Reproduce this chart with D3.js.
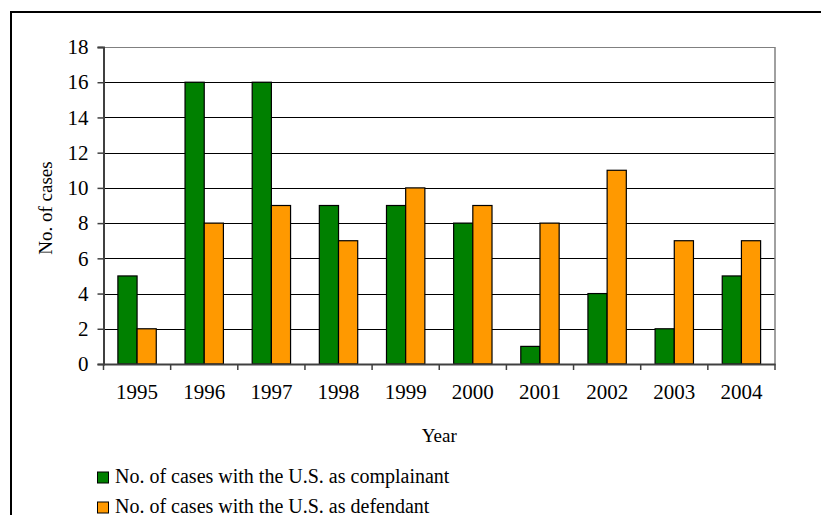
<!DOCTYPE html>
<html>
<head>
<meta charset="utf-8">
<script src="https://d3js.org/d3.v7.min.js"></script>
<style>
  body { margin: 0; background: #fff; }
  text { font-family: "Liberation Serif", "Times New Roman", serif; fill: #000; }
</style>
</head>
<body>
<svg id="chart" width="821" height="515"></svg>
<script>
// data
var years = ["1995","1996","1997","1998","1999","2000","2001","2002","2003","2004"];
var complainant = [5, 16, 16, 9, 9, 8, 1, 4, 2, 5];
var defendant = [2, 8, 9, 7, 10, 9, 8, 11, 7, 7];
var yTicks = [0, 2, 4, 6, 8, 10, 12, 14, 16, 18];
var seriesNames = ["No. of cases with the U.S. as complainant", "No. of cases with the U.S. as defendant"];
var colors = ["#008000", "#FF9900"];

var svg = d3.select("#chart");
var plotL = 103.5, plotR = 775, plotT = 47, plotB = 364;

// outer frame (left + top edges visible)
svg.append("rect").attr("x", 11).attr("y", 12).attr("width", 1000).attr("height", 1000)
  .attr("fill", "none").attr("stroke", "#000").attr("stroke-width", 2);

var x = d3.scaleBand().domain(years).range([plotL, plotR]).paddingInner(0).paddingOuter(0);
var y = d3.scaleLinear().domain([0, 18]).range([plotB, plotT]);
var bw = x.bandwidth() / 3.5;

// gridlines
svg.append("g").selectAll("line").data(yTicks.filter(function(d){ return d > 0; }))
  .join("line")
  .attr("x1", plotL).attr("x2", plotR)
  .attr("y1", function(d){ return Math.round(y(d)) + 0.5; })
  .attr("y2", function(d){ return Math.round(y(d)) + 0.5; })
  .attr("stroke", function(d){ return d == 18 ? "#808080" : "#000"; }).attr("stroke-width", 1.2);

// right border of plot area
svg.append("line").attr("x1", plotR).attr("x2", plotR).attr("y1", plotT).attr("y2", plotB)
  .attr("stroke", "#808080").attr("stroke-width", 1.5);

// bars
var bars = svg.append("g");
years.forEach(function(yr, i){
  var x0 = x(yr) + bw * 0.75;
  bars.append("rect").attr("x", x0).attr("y", y(complainant[i]))
    .attr("width", bw).attr("height", y(0) - y(complainant[i]))
    .attr("fill", colors[0]).attr("stroke", "#000").attr("stroke-width", 1.2);
  bars.append("rect").attr("x", x0 + bw).attr("y", y(defendant[i]))
    .attr("width", bw).attr("height", y(0) - y(defendant[i]))
    .attr("fill", colors[1]).attr("stroke", "#000").attr("stroke-width", 1.2);
});

// y axis
var yAxis = svg.append("g").attr("transform", "translate(" + plotL + ",0)")
  .call(d3.axisLeft(y).tickValues(yTicks).tickSize(6).tickPadding(9).tickFormat(d3.format("d")));
yAxis.select(".domain").attr("stroke", "#404040").attr("stroke-width", 2);
yAxis.selectAll(".tick line").attr("stroke", "#404040").attr("stroke-width", 1.5);
yAxis.selectAll(".tick text").attr("font-size", 21).attr("font-family", "Liberation Serif");

// x axis, ticks between categories
var xAxis = svg.append("g").attr("transform", "translate(0," + plotB + ")")
  .call(d3.axisBottom(x).tickSize(0).tickPadding(20));
xAxis.select(".domain").attr("stroke", "#404040").attr("stroke-width", 2);
xAxis.selectAll(".tick text").attr("font-size", 21).attr("font-family", "Liberation Serif")
  .attr("dy", "0.71em");
svg.append("g").selectAll("line").data(years.concat(["end"]))
  .join("line")
  .attr("x1", function(d, i){ return plotL + i * x.step(); })
  .attr("x2", function(d, i){ return plotL + i * x.step(); })
  .attr("y1", plotB).attr("y2", plotB + 6)
  .attr("stroke", "#404040").attr("stroke-width", 1.5);

// axis titles
svg.append("text").attr("x", (plotL + plotR) / 2).attr("y", 442)
  .attr("text-anchor", "middle").attr("font-size", 19).text("Year");
svg.append("text").attr("transform", "translate(52,208) rotate(-90)")
  .attr("text-anchor", "middle").attr("font-size", 19).text("No. of cases");

// legend
var lg = svg.append("g");
seriesNames.forEach(function(name, i){
  lg.append("rect").attr("x", 97.5).attr("y", 472 + i * 30).attr("width", 11).attr("height", 11)
    .attr("fill", colors[i]).attr("stroke", "#000").attr("stroke-width", 1);
  lg.append("text").attr("x", 115).attr("y", 483 + i * 30).attr("font-size", 20).text(name);
});
</script>
</body>
</html>
